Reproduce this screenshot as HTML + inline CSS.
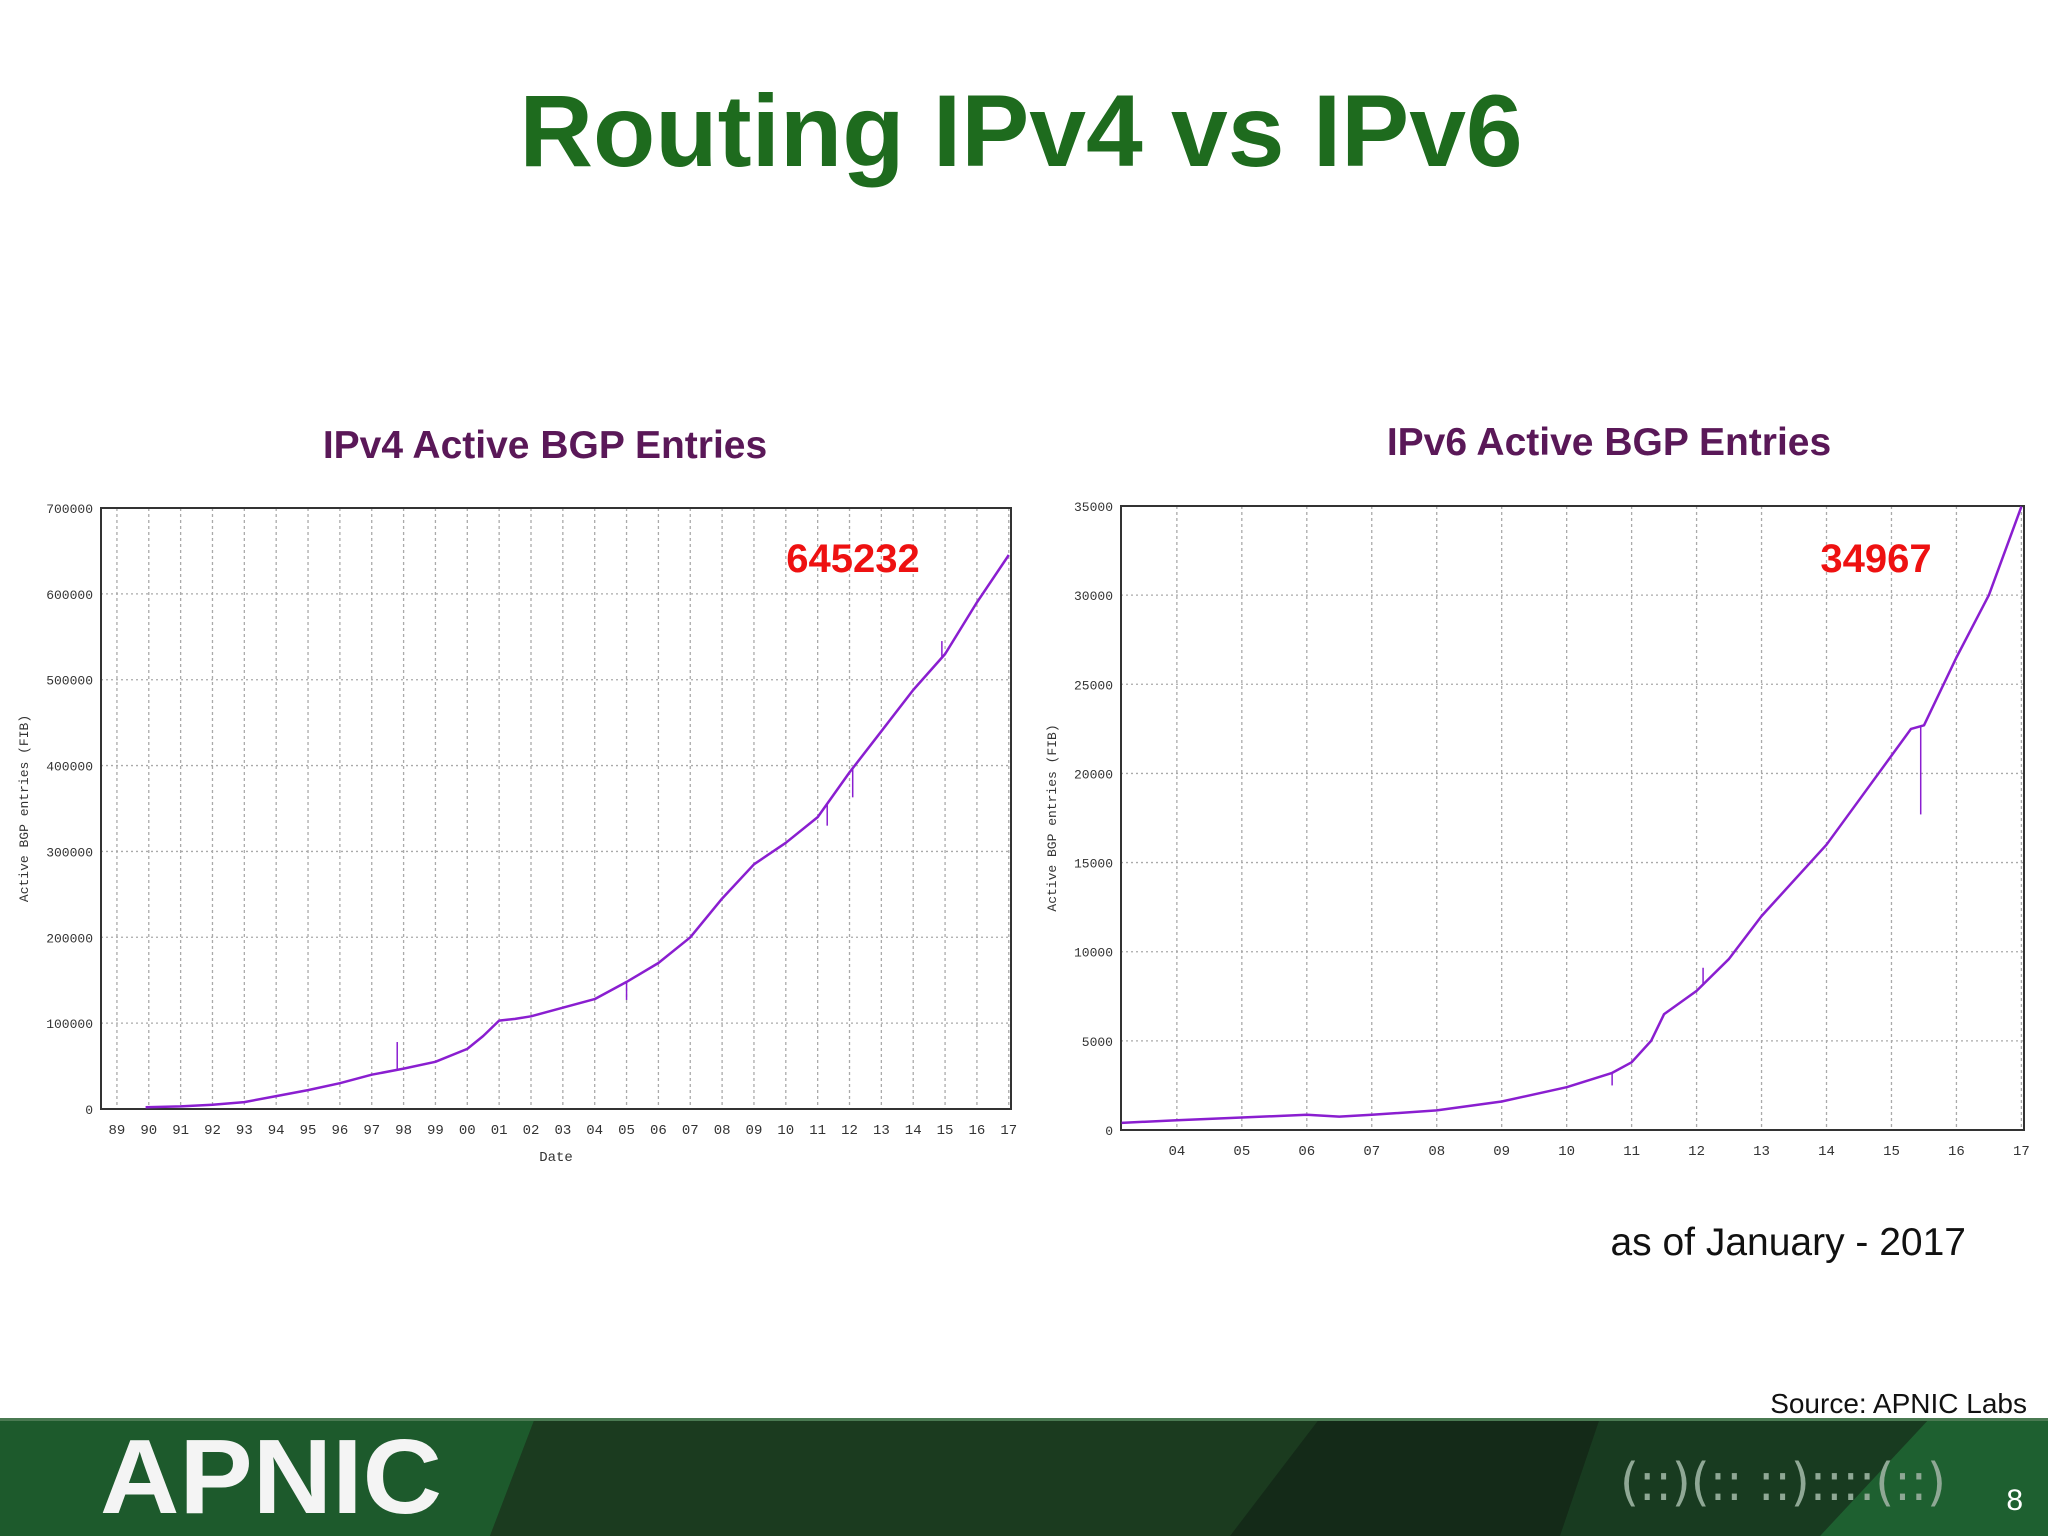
<!DOCTYPE html>
<html><head><meta charset="utf-8"><style>
html,body{margin:0;padding:0;background:#fff;}
svg{display:block;}
</style></head><body>
<svg id="s" width="2048" height="1536" viewBox="0 0 2048 1536" xmlns="http://www.w3.org/2000/svg">
<rect x="0" y="0" width="2048" height="1536" fill="#fff"/>
<text x="1021" y="166" text-anchor="middle" font-family="Liberation Sans, sans-serif" font-weight="bold" font-size="102" fill="#1e6b1e">Routing IPv4 vs IPv6</text>
<text x="545" y="458" text-anchor="middle" font-family="Liberation Sans, sans-serif" font-weight="bold" font-size="39" fill="#5a1858">IPv4 Active BGP Entries</text>
<text x="1609" y="455" text-anchor="middle" font-family="Liberation Sans, sans-serif" font-weight="bold" font-size="39" fill="#5a1858">IPv6 Active BGP Entries</text>
<g id="c4"></g>
<g id="c6"></g>
<text x="1966" y="1255" text-anchor="end" font-family="Liberation Sans, sans-serif" font-size="39" fill="#111">as of January - 2017</text>
<text x="2027" y="1413" text-anchor="end" font-family="Liberation Sans, sans-serif" font-size="28" fill="#111">Source: APNIC Labs</text>
<g>
<rect x="0" y="1418" width="2048" height="118" fill="#1b3a1f"/>
<polygon points="0,1418 535,1418 490,1536 0,1536" fill="#1d5a2c"/>
<polygon points="535,1418 1320,1418 1280,1536 490,1536" fill="#1b3b1f"/>
<polygon points="1320,1418 1600,1418 1560,1536 1230,1536" fill="#142a18"/>
<polygon points="1600,1418 1930,1418 1820,1536 1560,1536" fill="#183b20"/>
<polygon points="1930,1418 2048,1418 2048,1536 1820,1536" fill="#1e6030"/>
<rect x="0" y="1418" width="2048" height="3" fill="#4a7a52"/>
<text x="100" y="1513" font-family="Liberation Sans, sans-serif" font-weight="bold" font-size="106" fill="#f4f4f4" textLength="342" lengthAdjust="spacingAndGlyphs">APNIC</text>
<text x="1620" y="1500" font-family="DejaVu Sans, sans-serif" font-size="52" fill="#8fa895" textLength="326" lengthAdjust="spacingAndGlyphs">(::)(:: ::)::::(::)</text>
<text x="2023" y="1510" text-anchor="end" font-family="Liberation Sans, sans-serif" font-size="30" fill="#fff">8</text>
</g>
</svg>
<script>
// IPv4 data
const v4Years = [1989.9,1991,1992,1993,1994,1995,1996,1997,1998,1999,2000,2000.5,2001,2001.5,2002,2003,2004,2005,2006,2007,2008,2009,2010,2011,2012,2013,2014,2015,2016,2017];
const v4Values = [2000,3000,5000,8000,15000,22000,30000,40000,47000,55000,70000,85000,103000,105000,108000,118000,128000,148000,170000,200000,245000,285000,310000,340000,392000,440000,488000,530000,590000,645232];
const v4SpikeYears = [1997.8,2011.3,2012.1,2005.0,2014.9];
const v4SpikeValues = [78000,330000,363000,127000,545000];
const v4YTicks = [0,100000,200000,300000,400000,500000,600000,700000];
const v4XTicks = ['89','90','91','92','93','94','95','96','97','98','99','00','01','02','03','04','05','06','07','08','09','10','11','12','13','14','15','16','17'];
// IPv6 data
const v6Years = [2003.15,2004,2005,2006,2006.5,2007,2008,2009,2010,2010.7,2011,2011.3,2011.5,2012,2012.5,2013,2014,2014.5,2015,2015.3,2015.5,2016,2016.5,2017];
const v6Values = [400,550,700,850,750,850,1100,1600,2400,3200,3800,5000,6500,7800,9600,12000,16000,18500,21000,22500,22700,26500,30000,34967];
const v6SpikeYears = [2015.45,2012.1,2010.7];
const v6SpikeValues = [17700,9100,2500];
const v6YTicks = [0,5000,10000,15000,20000,25000,30000,35000];
const v6XTicks = ['04','05','06','07','08','09','10','11','12','13','14','15','16','17'];

const NS='http://www.w3.org/2000/svg';
function mk(p,tag,attrs){const e=document.createElementNS(NS,tag);for(const k in attrs)e.setAttribute(k,attrs[k]);p.appendChild(e);return e;}

function chart(g,cfg){
  const sx=v=>cfg.x0+(v-cfg.dmin)/(cfg.dmax-cfg.dmin)*(cfg.x1-cfg.x0);
  const sy=v=>cfg.y1-(v-0)/(cfg.ymax)*(cfg.y1-cfg.y0);
  const f='Liberation Mono, DejaVu Sans Mono, monospace';
  cfg.yticks.forEach(t=>{
    const y=sy(t);
    const l=mk(g,'line',{x1:cfg.x0,x2:cfg.x1,y1:y,y2:y,stroke:'#aaa','stroke-width':1.3,'stroke-dasharray':'2,3'});
    
    
    const tx=mk(g,'text',{x:cfg.x0-8,y:y+5,'text-anchor':'end','font-family':f,'font-size':13,fill:'#333'});
    tx.textContent=String(t);
    
    
  });
  cfg.xticks.forEach((t,i)=>{
    const yr=cfg.firstYear+i;
    const x=sx(yr);
    const l=mk(g,'line',{x1:x,x2:x,y1:cfg.y0,y2:cfg.y1,stroke:'#aaa','stroke-width':1.3,'stroke-dasharray':'3,3'});
    
    
    const tx=mk(g,'text',{x:x,y:cfg.y1+25,'text-anchor':'middle','font-family':f,'font-size':14,fill:'#333'});
    tx.textContent=t;
    
    
  });
  const fr=mk(g,'rect',{x:cfg.x0,y:cfg.y0,width:cfg.x1-cfg.x0,height:cfg.y1-cfg.y0,fill:'none',stroke:'#333','stroke-width':2});
  
  
  let d='';
  cfg.xs.forEach((v,i)=>{d+=(i?'L':'M')+sx(v).toFixed(1)+','+sy(cfg.ys[i]).toFixed(1);});
  const p=mk(g,'path',{d:d,fill:'none',stroke:'#8a1ed0','stroke-width':2.5,'stroke-linejoin':'round'});
  
  
  cfg.sxs.forEach((yr,i)=>{
    let base=0;
    for(let k=1;k<cfg.xs.length;k++){if(yr<=cfg.xs[k]){const a=cfg.xs[k-1],b=cfg.xs[k];base=cfg.ys[k-1]+(cfg.ys[k]-cfg.ys[k-1])*(yr-a)/(b-a);break;}}
    const s=mk(g,'line',{x1:sx(yr),x2:sx(yr),y1:sy(base),y2:sy(cfg.sys[i]),stroke:'#8a1ed0','stroke-width':1.5});
    
    
  });
  const yl=mk(g,'text',{x:0,y:0,transform:'translate('+cfg.ylx+','+((cfg.y0+cfg.y1)/2)+') rotate(-90)','text-anchor':'middle','font-family':f,'font-size':13,fill:'#333'});
  yl.textContent='Active BGP entries (FIB)';
  
  
  if(cfg.xlabel){
    const xl=mk(g,'text',{x:(cfg.x0+cfg.x1)/2,y:cfg.y1+52,'text-anchor':'middle','font-family':f,'font-size':14,fill:'#333'});
    xl.textContent=cfg.xlabel;
    
    
  }
  const lv=mk(g,'text',{x:cfg.lvx,y:572,'text-anchor':'middle','font-family':'Liberation Sans, sans-serif','font-weight':'bold','font-size':40,fill:'#ee1111'});
  lv.textContent=cfg.lv;
  
  
}
chart(document.getElementById('c4'),{x0:101,x1:1011,y0:508,y1:1109,dmin:1988.5,dmax:2017.07,ymax:700000,
  yticks:v4YTicks,xticks:v4XTicks,firstYear:1989,xs:v4Years,ys:v4Values,sxs:v4SpikeYears,sys:v4SpikeValues,ylx:28,xlabel:'Date',lv:String(v4Values[v4Values.length-1]),lvx:853});
chart(document.getElementById('c6'),{x0:1121,x1:2024,y0:506,y1:1130,dmin:2003.14,dmax:2017.04,ymax:35000,
  yticks:v6YTicks,xticks:v6XTicks,firstYear:2004,xs:v6Years,ys:v6Values,sxs:v6SpikeYears,sys:v6SpikeValues,ylx:1056,xlabel:'',lv:String(v6Values[v6Values.length-1]),lvx:1876});
</script>
</body></html>
